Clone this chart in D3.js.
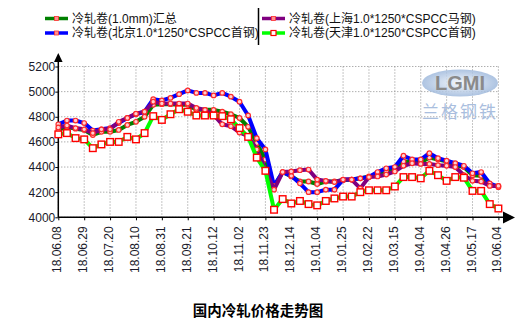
<!DOCTYPE html>
<html><head><meta charset="utf-8">
<script src="https://cdn.jsdelivr.net/npm/d3@7/dist/d3.min.js"></script>
<style>body{margin:0;background:#fff;}svg{display:block;}</style>
</head><body>
<svg id="c" width="528" height="326"></svg>
<script>
const tickLabels = ["18.06.08","18.06.29","18.07.20","18.08.10","18.08.31","18.09.21","18.10.12","18.11.02","18.11.23","18.12.14","19.01.04","19.01.25","19.02.22","19.03.15","19.04.04","19.04.26","19.05.17","19.06.04"];
const yTicks = [4000,4200,4400,4600,4800,5000,5200];
const seriesNames = ["冷轧卷(1.0mm)汇总","冷轧卷(北京1.0*1250*CSPCC首钢)","冷轧卷(上海1.0*1250*CSPCC马钢)","冷轧卷(天津1.0*1250*CSPCC首钢)"];
const total = [4695,4720,4705,4695,4655,4680,4680,4695,4735,4760,4800,4895,4900,4900,4895,4895,4855,4855,4855,4840,4820,4790,4720,4590,4460,4245,4360,4325,4285,4285,4265,4285,4285,4295,4300,4310,4325,4340,4365,4380,4445,4445,4435,4475,4460,4445,4415,4400,4335,4330,4255,4250];
const beijing = [4740,4770,4770,4750,4690,4700,4710,4750,4790,4820,4840,4940,4930,4950,4980,5010,4990,4990,4970,4990,4960,4920,4810,4630,4540,4250,4360,4330,4270,4200,4200,4220,4220,4300,4300,4310,4320,4360,4390,4400,4490,4460,4460,4510,4470,4450,4430,4410,4350,4360,4270,4240];
const shanghai = [4715,4730,4710,4700,4670,4700,4700,4760,4790,4825,4840,4920,4905,4905,4905,4905,4870,4855,4815,4740,4725,4675,4645,4540,4380,4220,4360,4365,4375,4380,4300,4290,4280,4300,4300,4230,4320,4325,4340,4365,4410,4430,4425,4425,4415,4410,4400,4335,4290,4285,4250,4250];
const tianjin = [4660,4670,4630,4620,4550,4580,4600,4600,4640,4620,4670,4805,4775,4820,4860,4840,4810,4810,4810,4805,4780,4710,4640,4475,4370,4060,4145,4110,4130,4105,4095,4130,4150,4165,4165,4200,4215,4215,4215,4245,4320,4320,4310,4370,4335,4290,4320,4315,4210,4210,4105,4070];
const colors = ["#008000","#0000ff","#800080","#00ff00"];

const svg = d3.select("#c");
const N = total.length;
const x = d3.scaleLinear().domain([0, N-1]).range([58.3, 498.4]);
const y = d3.scaleLinear().domain([4000, 5200]).range([217.3, 66.5]);
const tickIdx = tickLabels.map((d,i)=>i*3);

// grid
const g = svg.append("g");
g.selectAll(".hg").data(yTicks).join("line")
 .attr("x1", x(0)).attr("x2", x(N-1)).attr("y1", d=>y(d)).attr("y2", d=>y(d))
 .attr("stroke","#8c8c8c").attr("stroke-dasharray","1,2");
g.selectAll(".vg").data(tickIdx).join("line")
 .attr("x1", d=>x(d)).attr("x2", d=>x(d)).attr("y1", y(5200)).attr("y2", y(4000))
 .attr("stroke","#8c8c8c").attr("stroke-dasharray","1,2");

// watermark
const wm = svg.append("g");
const grad = svg.append("defs").append("radialGradient").attr("id","wg");
grad.append("stop").attr("offset","0%").attr("stop-color","#f2f6fb");
grad.append("stop").attr("offset","100%").attr("stop-color","#9fb9dc");
wm.append("ellipse").attr("cx",460).attr("cy",83).attr("rx",38).attr("ry",13.5).attr("fill","url(#wg)").attr("opacity",0.85);
wm.append("text").attr("x",460).attr("y",90).attr("text-anchor","middle").attr("font-family","Liberation Sans, Arial").attr("font-size",20).attr("font-weight","bold").attr("fill","#8a8a8a").text("LGMI");
wm.append("text").attr("x",460).attr("y",118).attr("text-anchor","middle").attr("font-family","Noto Sans CJK SC").attr("font-size",17).attr("letter-spacing","2").attr("fill","#a9bede").text("兰格钢铁");

// axes
const yAxis = d3.axisLeft(y).tickValues(yTicks).tickSize(3).tickFormat(d3.format("d"));
const ya = svg.append("g").attr("transform","translate(58.3,0)").call(yAxis);
ya.select(".domain").remove();
ya.selectAll("text").attr("font-family","Liberation Sans, Arial").attr("font-size",12).attr("fill","#1a1a2a").attr("x",-3);
ya.selectAll("line").attr("stroke","#000");

const xAxis = d3.axisBottom(x).tickValues(tickIdx).tickSize(3).tickFormat((d,i)=>tickLabels[i]);
const xa = svg.append("g").attr("transform","translate(0,217.3)").call(xAxis);
xa.select(".domain").remove();
xa.selectAll("line").attr("stroke","#000");
xa.selectAll("text").attr("font-family","Liberation Sans, Arial").attr("font-size",12).attr("fill","#1a1a2a")
  .attr("text-anchor","end").attr("dy",null).attr("y",null)
  .attr("transform","translate(-1.5,9) rotate(-90)").attr("dominant-baseline","central");

svg.append("line").attr("x1",58.3).attr("x2",58.3).attr("y1",217.3).attr("y2",60).attr("stroke","#000").attr("stroke-width",1.5);
svg.append("line").attr("x1",58.3).attr("x2",505).attr("y1",217.3).attr("y2",217.3).attr("stroke","#000").attr("stroke-width",1.5);
svg.append("path").attr("d","M58.3,53 L54,62 L62.6,62 Z").attr("fill","#000");
svg.append("path").attr("d","M515,217.5 L503,211.5 L503,223.5 Z").attr("fill","#000");

// series
const allSeries = [total, beijing, shanghai, tianjin];
const line = d3.line().x((d,i)=>x(i)).y(d=>y(d));
allSeries.forEach((s,k)=>{
  svg.append("path").datum(s).attr("d",line).attr("fill","none").attr("stroke",colors[k]).attr("stroke-width",4).attr("stroke-linejoin","round");
  if (k<3) {
    svg.append("g").selectAll("circle").data(s).join("circle")
      .attr("cx",(d,i)=>x(i)).attr("cy",d=>y(d)).attr("r",2.3)
      .attr("fill","#ffd0d0").attr("stroke","#ff2a2a").attr("stroke-width",1.2);
  } else {
    svg.append("g").selectAll("rect").data(s).join("rect")
      .attr("x",(d,i)=>x(i)-3.3).attr("y",d=>y(d)-3.3).attr("width",6.6).attr("height",6.6)
      .attr("fill","#fff").attr("stroke","#ff0000").attr("stroke-width",1.4);
  }
});

// legend
const leg = svg.append("g");
const legPos = [[45,18.5],[45,33],[262,18.5],[262,33]];
seriesNames.forEach((n,k)=>{
  const [lx,ly] = legPos[k];
  leg.append("line").attr("x1",lx).attr("x2",lx+23).attr("y1",ly).attr("y2",ly).attr("stroke",colors[k]).attr("stroke-width",3.5);
  if (k<3) {
    leg.append("rect").attr("x",lx+9.5).attr("y",ly-2).attr("width",4).attr("height",4).attr("fill","#ff9090").attr("stroke","#ff3030").attr("stroke-width",0.8);
  } else {
    leg.append("rect").attr("x",lx+9).attr("y",ly-2.5).attr("width",5).attr("height",5).attr("fill","#fff").attr("stroke","#ff0000").attr("stroke-width",1.2);
  }
  leg.append("text").attr("x",lx+27).attr("y",ly).attr("dominant-baseline","central")
    .attr("font-family","Liberation Sans, Noto Sans CJK SC").attr("font-size",12).attr("fill","#111").text(n);
});
leg.append("line").attr("x1",258.5).attr("x2",258.5).attr("y1",8).attr("y2",45).attr("stroke","#000").attr("stroke-width",1.5);

// title
svg.append("text").attr("x",258).attr("y",309).attr("text-anchor","middle").attr("dominant-baseline","central")
  .attr("font-family","Noto Sans CJK SC").attr("font-weight","bold").attr("font-size",14.5).attr("fill","#000").text("国内冷轧价格走势图");
</script>
</body></html>
